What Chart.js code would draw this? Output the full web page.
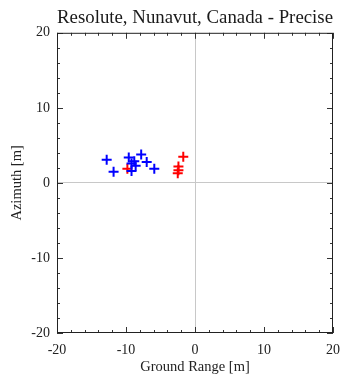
<!DOCTYPE html>
<html>
<head>
<meta charset="utf-8">
<script src="https://cdn.jsdelivr.net/npm/chart.js@4/dist/chart.umd.min.js"></script>
<style>
  html, body { margin: 0; padding: 0; background: #fff; }
  #wrap { width: 340px; height: 376px; }
</style>
</head>
<body>
<div id="wrap"><canvas id="chart" width="340" height="376"></canvas></div>
<script>
// positions (metres)
const blueX = [-12.8, -11.8, -9.6, -9.2, -8.6, -9.2, -7.8, -7.0, -5.9, -8.8];
const blueY = [3.1, 1.5, 3.4, 2.6, 2.3, 1.6, 3.8, 2.8, 1.9, 2.9];
const redX = [-9.8, -1.7, -2.4, -2.4, -2.5];
const redY = [1.9, 3.5, 2.2, 1.7, 1.3];
const axisTicks = [-20, -10, 0, 10, 20];

const titleText = 'Resolute, Nunavut, Canada - Precise';
const xTitle = 'Ground Range [m]';
const yTitle = 'Azimuth [m]';

const serif = '"Liberation Serif", "DejaVu Serif", serif';

const toPoints = (xs, ys) => xs.map((x, i) => ({ x: x, y: ys[i] }));

// small inward ticks on all four sides, IDL style
const innerTicks = {
    id: 'innerTicks',
    afterDatasetsDraw(chart) {
        const { ctx, chartArea: a, scales } = chart;
        ctx.save();
        ctx.strokeStyle = '#333';
        ctx.lineWidth = 1;
        for (let v = -20; v <= 20; v += 2) {
            const len = v % 10 === 0 ? 6 : 3;
            const px = Math.round(scales.x.getPixelForValue(v)) + 0.5;
            const py = Math.round(scales.y.getPixelForValue(v)) + 0.5;
            ctx.beginPath();
            ctx.moveTo(px, a.bottom); ctx.lineTo(px, a.bottom - len);
            ctx.moveTo(px, a.top); ctx.lineTo(px, a.top + len);
            ctx.moveTo(a.left, py); ctx.lineTo(a.left + len, py);
            ctx.moveTo(a.right, py); ctx.lineTo(a.right - len, py);
            ctx.stroke();
        }
        ctx.strokeStyle = '#222';
        ctx.strokeRect(a.left + 0.5, a.top + 0.5, a.right - a.left - 1, a.bottom - a.top - 1);
        ctx.restore();
    }
};

const zeroGrid = c => c.tick && c.tick.value === 0 ? '#c8c8c8' : 'rgba(0,0,0,0)';

new Chart(document.getElementById('chart'), {
    type: 'scatter',
    data: {
        datasets: [{
            label: 'blue',
            data: toPoints(blueX, blueY),
            pointStyle: 'cross',
            pointRadius: 5,
            borderWidth: 2,
            borderColor: '#0000ff',
            backgroundColor: '#0000ff'
        }, {
            label: 'red',
            data: toPoints(redX, redY),
            pointStyle: 'cross',
            pointRadius: 5,
            borderWidth: 2,
            borderColor: '#ff0000',
            backgroundColor: '#ff0000'
        }]
    },
    options: {
        responsive: false,
        animation: false,
        layout: { padding: { left: 0, right: 0, top: 0, bottom: 0 } },
        plugins: {
            legend: { display: false },
            tooltip: { enabled: false },
            title: {
                display: true,
                text: titleText,
                fullSize: false,
                color: '#1a1a1a',
                font: { family: serif, size: 19, weight: 'normal' },
                padding: { top: 7, bottom: 3 }
            }
        },
        scales: {
            x: {
                type: 'linear',
                min: -20, max: 20,
                afterBuildTicks: s => { s.ticks = axisTicks.map(v => ({ value: v })); },
                afterFit: s => { s.height = 43; },
                // invisible tick marks give the label gap without widening the right margin
                grid: { color: zeroGrid, drawTicks: true, tickLength: 9, tickColor: 'rgba(0,0,0,0)', lineWidth: 1 },
                border: { display: false },
                ticks: { color: '#222', padding: 0, font: { family: serif, size: 14 } },
                title: {
                    display: true, text: xTitle, color: '#222', padding: { top: 0, bottom: 0 },
                    font: { family: serif, size: 14.5 }
                }
            },
            y: {
                type: 'linear',
                min: -20, max: 20,
                afterBuildTicks: s => { s.ticks = axisTicks.map(v => ({ value: v })); },
                afterFit: s => { s.width = 57; },
                grid: { color: zeroGrid, drawTicks: true, tickLength: 7, tickColor: 'rgba(0,0,0,0)', lineWidth: 1 },
                border: { display: false },
                ticks: { color: '#222', padding: 0, font: { family: serif, size: 14 } },
                title: {
                    display: true, text: yTitle, color: '#222', padding: { top: 8, bottom: 0 },
                    font: { family: serif, size: 14.5 }
                }
            }
        }
    },
    plugins: [innerTicks]
});
</script>
</body>
</html>
